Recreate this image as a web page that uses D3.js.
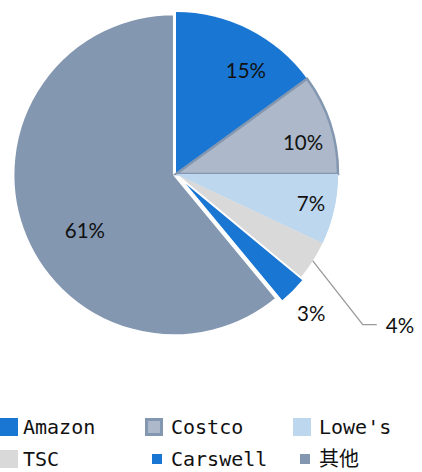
<!DOCTYPE html>
<html><head><meta charset="utf-8">
<script src="https://cdn.jsdelivr.net/npm/d3@7"></script>
<style>
html,body{margin:0;padding:0;background:#fff;}
svg{display:block;}
</style>
</head><body>
<svg id="c" width="422" height="472"></svg>
<script>
// ---- data ----
const categories = ["Amazon", "Costco", "Lowe's", "TSC", "Carswell", "其他"];
const values = [15, 10, 7, 4, 3, 61];
const labelTexts = ["15%", "10%", "7%", "4%", "3%", "61%"];

// ---- styles / layout ----
const colors = ["#1976D2", "#ADB9CA", "#BDD7EE", "#D9D9D9", "#1976D2", "#8497B0"];
const strokes = ["none", "#8497B0", "none", "none", "#ffffff", "#ffffff"];
const strokeW = [0, 2.5, 0, 0, 2, 2];
const explode = [0, 0, 0, 0, 4, 2.2];
const radiusAdj = [0, 0, 0, 0, 0, -1.5];
// label polar placement: radius, angle shift in degrees (from slice bisector)
const labelPlace = [[125, 7], [131, 4], [138, -0.6], null, [194, 0.8], [107, -11.8]];

const svg = d3.select("#c");
const cx = 176, cy = 174, R = 162;

const pie = d3.pie().sort(null).value(d => d.v).startAngle(0).endAngle(2 * Math.PI);
const data = categories.map((c, i) => ({ c, v: values[i], i }));
const arcs = pie(data);

const g = svg.append("g").attr("transform", `translate(${cx},${cy})`);
const polar = (r, a) => [r * Math.sin(a), -r * Math.cos(a)];

// draw order: others first, then the rest
const order = [5, 0, 1, 2, 3, 4];
order.forEach(i => {
  const a = arcs[i];
  const mid = (a.startAngle + a.endAngle) / 2;
  const [ox, oy] = polar(explode[i], mid);
  g.append("path")
    .attr("d", d3.arc().innerRadius(0).outerRadius(R + radiusAdj[i])(a))
    .attr("transform", `translate(${ox},${oy})`)
    .attr("fill", colors[i])
    .attr("stroke", strokes[i])
    .attr("stroke-width", strokeW[i])
    .attr("stroke-linejoin", "miter");
});
// redraw Lowe's on top so Costco's outline shows only on arc/top edge
g.append("path").attr("d", d3.arc().innerRadius(0).outerRadius(R)(arcs[2])).attr("fill", colors[2]);

const labelFont = "Lato, 'Open Sans', sans-serif";
arcs.forEach((a, i) => {
  const p = labelPlace[i];
  if (!p) return;
  const mid = (a.startAngle + a.endAngle) / 2 + p[1] * Math.PI / 180;
  const [x, y] = polar(p[0], mid);
  g.append("text").attr("x", x).attr("y", y)
    .attr("text-anchor", "middle").attr("dominant-baseline", "central")
    .attr("font-family", labelFont).attr("font-size", 20.5).attr("fill", "#111")
    .text(labelTexts[i]);
});

// TSC leader line label
{
  const a = arcs[3];
  const mid = (a.startAngle + a.endAngle) / 2;
  const p0 = polar(R, mid);
  const p1 = polar(240, mid + 6.5 * Math.PI / 180);
  const p2 = [p1[0] + 14, p1[1]];
  g.append("polyline")
    .attr("points", [p0, p1, p2].map(p => p.join(",")).join(" "))
    .attr("fill", "none").attr("stroke", "#999").attr("stroke-width", 1.3);
  g.append("text").attr("x", p2[0] + 9).attr("y", p2[1])
    .attr("dominant-baseline", "central")
    .attr("font-family", labelFont).attr("font-size", 20.5).attr("fill", "#111")
    .text(labelTexts[3]);
}

// ---- legend ----
const legFont = "'DejaVu Sans Mono', 'Noto Sans CJK SC', monospace";
const colX = [0, 145, 293];
const rowY = [427, 459];
const leg = svg.append("g");
categories.forEach((c, i) => {
  const row = Math.floor(i / 3), col = i % 3;
  const x = colX[col], y = rowY[row];
  const small = (i === 4 || i === 5);
  const sz = small ? 10 : 18;
  const sx = small ? x + 7 : x;
  if (i === 1) {
    leg.append("rect").attr("x", sx + 1.5).attr("y", y - 9 + 1.5).attr("width", sz - 3).attr("height", sz - 3)
      .attr("fill", colors[i]).attr("stroke", "#8497B0").attr("stroke-width", 3);
  } else {
    leg.append("rect").attr("x", sx).attr("y", y - sz / 2).attr("width", sz).attr("height", sz)
      .attr("fill", colors[i]);
  }
  leg.append("text").attr("x", x + (col === 0 ? 23 : 26)).attr("y", y)
    .attr("dominant-baseline", "central")
    .attr("font-family", legFont).attr("font-size", 20).attr("fill", "#111")
    .text(c);
});
</script>
</body></html>
